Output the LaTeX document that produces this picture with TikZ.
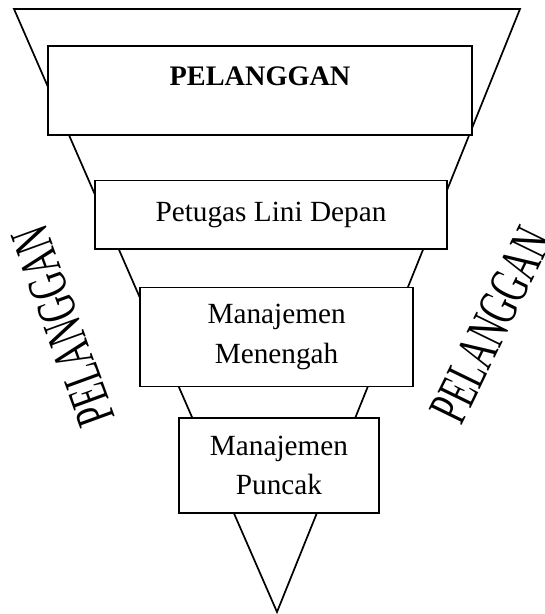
\documentclass[tikz,border=0pt]{standalone}
\usepackage{fontspec}
\setmainfont{Liberation Serif}
\usetikzlibrary{positioning}

\begin{document}
\begin{tikzpicture}[x=0.41pt, y=-0.41pt, line width=0.7pt,
    level/.style={draw, fill=white, align=center, inner sep=0pt,
      font=\fontsize{12}{16}\selectfont},
    side/.style={yscale=1.65, font=\fontsize{13.9}{16}\selectfont}]
  \useasboundingbox (0,0) rectangle (544,614);
  % funnel
  \coordinate (tl) at (14,9);
  \coordinate (tr) at (520,9);
  \coordinate (tip) at (277,612);
  \draw (tl) -- (tr) -- (tip) -- cycle;
  % levels, top to bottom
  \node[level, minimum width=173.8pt, minimum height=36.5pt] (pel) at (260,90.5)
    {\fontsize{11.6}{16}\selectfont\textbf{PELANGGAN}\\[-4pt] \mbox{}};
  \node[level, minimum width=144.3pt, minimum height=27.9pt,
        below=18pt of pel, xshift=4.5pt] (petugas)
    {Petugas Lini Depan};
  \node[level, minimum width=111.9pt, minimum height=40.6pt,
        below=15.2pt of petugas, xshift=2.3pt] (menengah)
    {Manajemen\\ Menengah};
  \node[level, minimum width=82pt, minimum height=39pt,
        below=12.3pt of menengah, xshift=1pt] (puncak)
    {Manajemen\\ Puncak};
  % customers on both sides
  \node[rotate=110, side] (pelL) at (63,326) {PELANGGAN};
  \node[rotate=64, side] (pelR) at (491,325) {PELANGGAN};
\end{tikzpicture}
\end{document}
